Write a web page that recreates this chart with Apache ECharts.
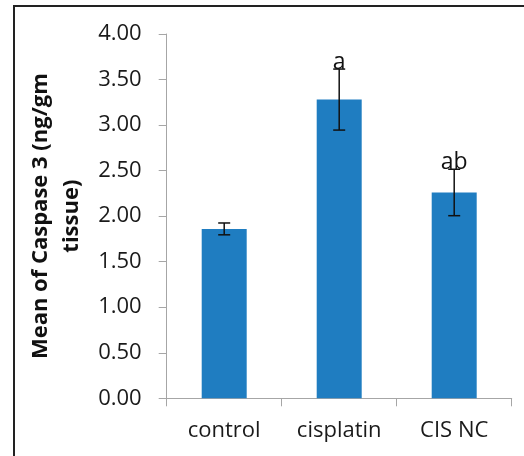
<!DOCTYPE html>
<html>
<head>
<meta charset="utf-8">
<script src="https://cdn.jsdelivr.net/npm/echarts@6/dist/echarts.min.js"></script>
<style>
html,body{margin:0;padding:0;background:#fff;}
#chart{width:524px;height:456px;}
</style>
</head>
<body>
<div id="chart"></div>
<script>
var categories = ['control', 'cisplatin', 'CIS NC'];
var means = [1.86, 3.28, 2.26];
var errors = [0.065, 0.335, 0.255];
var sigLabels = ['', 'a', 'ab'];
var yTicks = [0, 0.5, 1, 1.5, 2, 2.5, 3, 3.5, 4];

var chart = echarts.init(document.getElementById('chart'));
var font = '"Open Sans", "Noto Sans", sans-serif';
var axisGray = '#a6a6a6';

var errData = categories.map(function (c, i) { return [i, means[i], errors[i], sigLabels[i]]; });

var option = {
  animation: false,
  backgroundColor: '#fff',
  graphic: [{
    type: 'rect',
    shape: { x: 14, y: 6, width: 620, height: 620 },
    style: { fill: 'none', stroke: '#222', lineWidth: 2 },
    z: 100
  }],
  grid: { left: 166.7, right: 12.3, top: 34, bottom: 57.7 },
  xAxis: {
    type: 'category',
    data: categories,
    boundaryGap: true,
    axisLine: { show: true, lineStyle: { color: axisGray, width: 1 } },
    axisTick: { show: true, length: 8, alignWithLabel: false, lineStyle: { color: axisGray } },
    axisLabel: { color: '#1a1a1a', fontFamily: font, fontSize: 22, margin: 21 },
    splitLine: { show: false }
  },
  yAxis: {
    type: 'value',
    min: yTicks[0],
    max: yTicks[yTicks.length - 1],
    interval: 0.5,
    name: 'Mean of Caspase 3 (ng/gm\ntissue)',
    nameLocation: 'middle',
    nameRotate: 90,
    nameGap: 73,
    nameTextStyle: { color: '#111', fontFamily: font, fontSize: 22, fontWeight: 'bold', lineHeight: 31, align: 'center' },
    axisLine: { show: true, lineStyle: { color: axisGray, width: 1 } },
    axisTick: { show: true, length: 8, lineStyle: { color: axisGray } },
    axisLabel: {
      color: '#1a1a1a', fontFamily: font, fontSize: 22, margin: 25,
      formatter: function (v) { return v.toFixed(2); }
    },
    splitLine: { show: false }
  },
  series: [{
    type: 'bar',
    data: means,
    barWidth: 45,
    itemStyle: { color: '#1f7dc1' },
    z: 2
  }, {
    type: 'custom',
    data: errData,
    z: 5,
    renderItem: function (params, api) {
      var i = api.value(0), m = api.value(1), e = api.value(2);
      var top = api.coord([i, m + e]);
      var bot = api.coord([i, m - e]);
      var hw = 6;
      var st = { stroke: '#111', lineWidth: 1.5 };
      var children = [
        { type: 'line', shape: { x1: top[0], y1: top[1], x2: bot[0], y2: bot[1] }, style: st },
        { type: 'line', shape: { x1: top[0] - hw, y1: top[1], x2: top[0] + hw, y2: top[1] }, style: st },
        { type: 'line', shape: { x1: bot[0] - hw, y1: bot[1], x2: bot[0] + hw, y2: bot[1] }, style: st }
      ];
      var lbl = sigLabels[params.dataIndex];
      if (lbl) {
        children.push({
          type: 'text',
          style: {
            text: lbl, x: top[0], y: top[1] + 5,
            align: 'center', verticalAlign: 'bottom',
            fontFamily: font, fontSize: 23, fill: '#111'
          }
        });
      }
      return { type: 'group', children: children };
    }
  }]
};
chart.setOption(option);
</script>
</body>
</html>
